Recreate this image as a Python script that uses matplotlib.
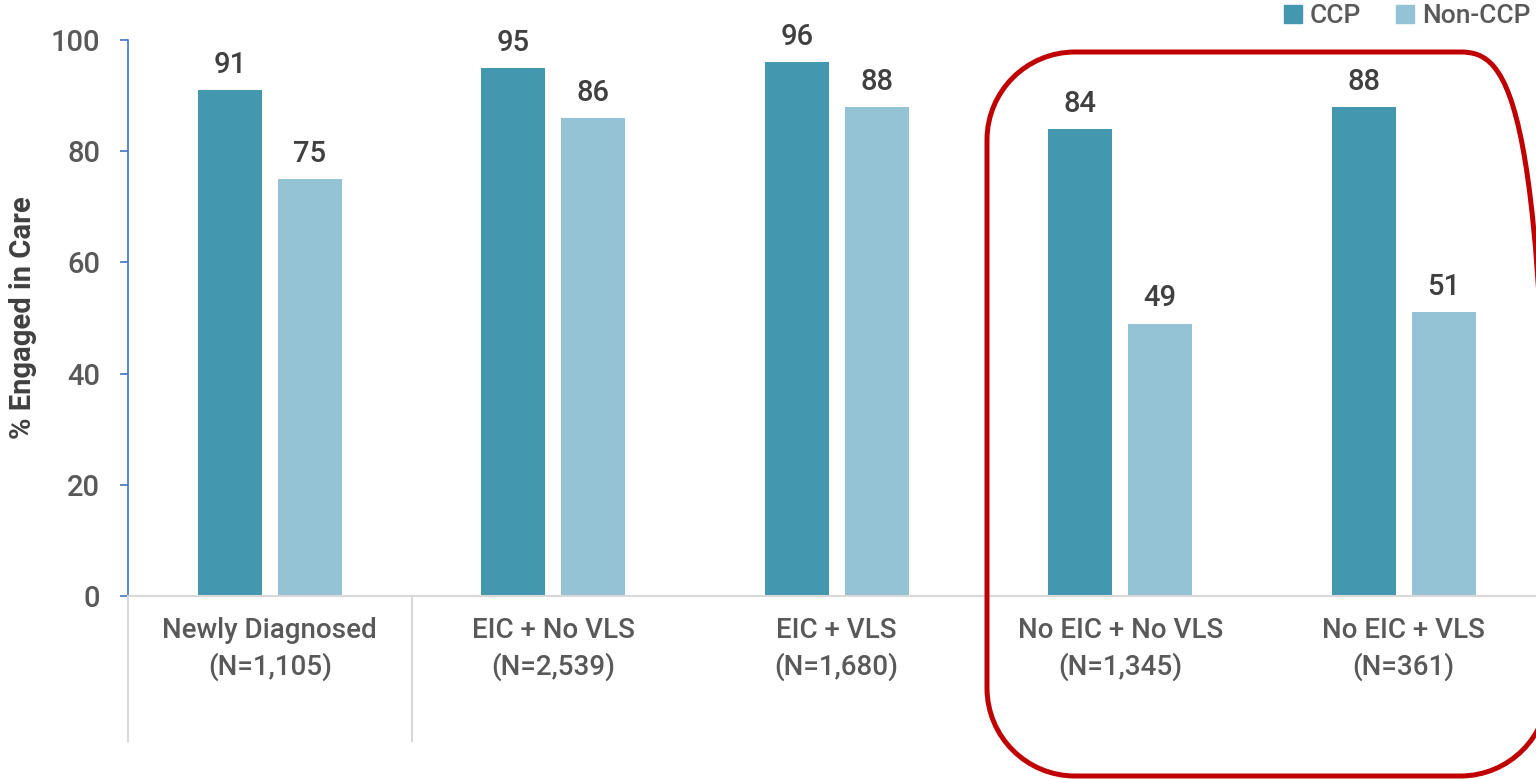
import numpy as np
import matplotlib
matplotlib.use("Agg")
import matplotlib.pyplot as plt
from matplotlib.patches import Patch, PathPatch
from matplotlib.path import Path
from matplotlib.transforms import IdentityTransform

# Engagement in care by group
groups = ["Newly Diagnosed\n(N=1,105)", "EIC + No VLS\n(N=2,539)", "EIC + VLS\n(N=1,680)",
          "No EIC + No VLS\n(N=1,345)", "No EIC + VLS\n(N=361)"]
ccp = [91, 95, 96, 84, 88]
non_ccp = [75, 86, 88, 49, 51]
series_names = ["CCP", "Non-CCP"]
yticks = [0, 20, 40, 60, 80, 100]

CCP_COLOR = "#4397AF"
NON_COLOR = "#93C3D4"
TEXT_GRAY = "#595959"
LABEL_DARK = "#404040"

plt.rcParams["font.family"] = ["Roboto", "DejaVu Sans"]
plt.rcParams["savefig.bbox"] = "standard"


def rounded_rect(x0, y0, x1, y1, r):
    """Closed rectangle path with circular corners (cubic approximation)."""
    k = 0.5523 * r
    verts = [
        (x0 + r, y0), (x1 - r, y0),
        (x1 - r + k, y0), (x1, y0 + r - k), (x1, y0 + r),
        (x1, y1 - r),
        (x1, y1 - r + k), (x1 - r + k, y1), (x1 - r, y1),
        (x0 + r, y1),
        (x0 + r - k, y1), (x0, y1 - r + k), (x0, y1 - r),
        (x0, y0 + r),
        (x0, y0 + r - k), (x0 + r - k, y0), (x0 + r, y0),
        (x0 + r, y0),
    ]
    codes = ([Path.MOVETO, Path.LINETO] + [Path.CURVE4] * 3 + [Path.LINETO]
             + [Path.CURVE4] * 3 + [Path.LINETO] + [Path.CURVE4] * 3
             + [Path.LINETO] + [Path.CURVE4] * 3 + [Path.CLOSEPOLY])
    return Path(verts, codes)


fig = plt.figure(figsize=(15.36, 7.79), dpi=100)
ax = fig.add_axes([128 / 1536, 1 - 596 / 779, 1417.5 / 1536, 556 / 779])

x = np.arange(len(groups))
w = 0.226
off = 0.141
b1 = ax.bar(x - off, ccp, w, color=CCP_COLOR)
b2 = ax.bar(x + off, non_ccp, w, color=NON_COLOR)

for bars, vals in ((b1, ccp), (b2, non_ccp)):
    for rect, v in zip(bars, vals):
        ax.annotate(f"{v}", (rect.get_x() + rect.get_width() / 2, v),
                    xytext=(0, 8), textcoords="offset points",
                    ha="center", va="bottom", fontsize=21, fontweight="medium",
                    color=LABEL_DARK)

ax.set_xlim(-0.5, len(groups) - 0.5)
ax.set_ylim(0, 100)
ax.set_yticks(yticks)
ax.set_xticks(x)
ax.set_xticklabels(groups, fontsize=20, color=TEXT_GRAY, linespacing=1.4,
                   fontweight="medium")
ax.tick_params(axis="x", length=0, pad=15)
ax.tick_params(axis="y", direction="out", length=6, width=1.2, color="#4472C4",
               labelsize=21, labelcolor=TEXT_GRAY, pad=14)
for lbl in ax.get_yticklabels():
    lbl.set_fontweight("medium")

for side in ("top", "right"):
    ax.spines[side].set_visible(False)
ax.spines["left"].set_color("#4472C4")
ax.spines["left"].set_linewidth(1.2)
ax.spines["bottom"].set_color("#D9D9D9")
ax.spines["bottom"].set_linewidth(1.5)

ax.set_ylabel("% Engaged in Care", fontsize=21, fontweight="bold", color=LABEL_DARK, labelpad=10)

# category separators below the axis
for sx in (-0.5, 0.5):
    ax.plot([sx, sx], [0, -26], color="#D9D9D9", lw=1.5, clip_on=False)

# legend top right
handles = [Patch(color=CCP_COLOR), Patch(color=NON_COLOR)]
fig.legend(handles, series_names, loc="upper right", bbox_to_anchor=(1.012, 1.025),
           ncol=2, frameon=False, handlelength=0.7, handleheight=0.7,
           handletextpad=0.3, columnspacing=1.3,
           prop={"size": 19, "weight": "medium"}, labelcolor=TEXT_GRAY)

# highlight box around the last two groups (right side runs off the figure)
fig.canvas.draw()
bx0 = ax.transData.transform((2.53, 0))[0]
bx1 = ax.transData.transform((4.51, 0))[0]
by_top = 779 - 52
by_bot = 779 - 776
box = PathPatch(rounded_rect(bx0, by_bot, bx1, by_top, 88),
                transform=IdentityTransform(), fill=False,
                edgecolor="#C00000", lw=3.6)
box.set_clip_box(fig.bbox)
fig.add_artist(box)

plt.savefig("out.png", dpi=100, bbox_inches=None)
